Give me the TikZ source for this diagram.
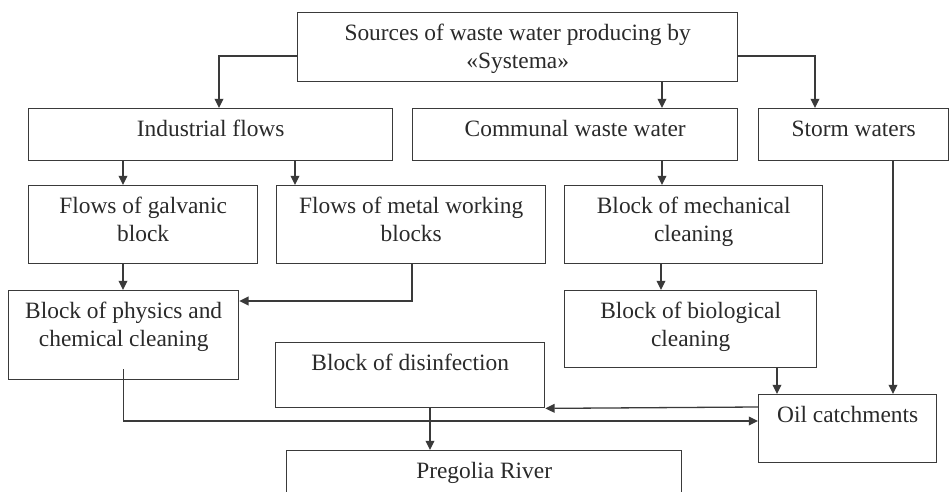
\documentclass[tikz,border=0pt]{standalone}
\usepackage{fontspec}
\setmainfont{Liberation Serif}
\usetikzlibrary{arrows.meta,calc}
\definecolor{ink}{HTML}{2A2A2A}
\definecolor{edge}{HTML}{3A3A3A}
\tikzset{
  box/.style={draw=edge, line width=0.7pt, rectangle, inner sep=0pt, anchor=north west},
  txt/.style={text=ink, inner sep=0pt, anchor=north, align=center, font=\fontsize{11.7}{14}\selectfont},
  arr/.style={draw=edge, line width=0.65pt, -{Triangle[length=4.6pt,width=4.4pt]}},
  ln/.style={draw=edge, line width=0.65pt}
}
\begin{document}
\begin{tikzpicture}[x=0.5pt,y=-0.5pt]
\useasboundingbox (0,0) rectangle (950,492);
\clip (0,0) rectangle (950,492);
\fill[white] (0,0) rectangle (950,492);
% boxes
\node[box, minimum width=220pt, minimum height=34.5pt] (src) at (297,12) {};
\node[box, minimum width=182pt, minimum height=26pt] (ind) at (28,108) {};
\node[box, minimum width=162.5pt, minimum height=26pt] (com) at (412,108) {};
\node[box, minimum width=95pt, minimum height=26pt] (sto) at (758,108) {};
\node[box, minimum width=114.5pt, minimum height=39pt] (gal) at (28,185) {};
\node[box, minimum width=134.5pt, minimum height=39pt] (met) at (276,185) {};
\node[box, minimum width=129pt, minimum height=39pt] (mec) at (564,185) {};
\node[box, minimum width=115pt, minimum height=44.5pt] (phy) at (8,290) {};
\node[box, minimum width=126pt, minimum height=38.5pt] (bio) at (564,290) {};
\node[box, minimum width=134.5pt, minimum height=32.5pt] (dis) at (275,342) {};
\node[box, minimum width=89pt, minimum height=34pt] (oil) at (758,394) {};
\node[box, minimum width=197.5pt, minimum height=30pt] (pre) at (286,450) {};
% texts
\node[txt] (tsrc) at ([yshift=-4.2pt]src.north) {\strut Sources of waste water producing by\\«Systema»};
\node[txt] (tind) at ([yshift=-4.2pt]ind.north) {\strut Industrial flows};
\node[txt] (tcom) at ([yshift=-4.2pt]com.north) {\strut Communal waste water};
\node[txt] (tsto) at ([yshift=-4.2pt]sto.north) {\strut Storm waters};
\node[txt] (tgal) at ([yshift=-4.2pt]gal.north) {\strut Flows of galvanic\\block};
\node[txt] (tmet) at ([yshift=-4.2pt]met.north) {\strut Flows of metal working\\blocks};
\node[txt] (tmec) at ([yshift=-4.2pt]mec.north) {\strut Block of mechanical\\cleaning};
\node[txt] (tphy) at ([yshift=-4.2pt]phy.north) {\strut Block of physics and\\chemical cleaning};
\node[txt] (tbio) at ([yshift=-4.2pt]bio.north) {\strut Block of biological\\cleaning};
\node[txt] (tdis) at ([yshift=-4.2pt]dis.north) {\strut Block of disinfection};
\node[txt] (toil) at ([yshift=-4.2pt]oil.north) {\strut Oil catchments};
\node[txt] (tpre) at ([yshift=-4.2pt]pre.north) {\strut Pregolia River};
% connectors
\draw[arr] (src.west |- 0,56) -| (ind.north -| 219,0);
\draw[arr] (src.south -| 662,0) -- (com.north -| 662,0);
\draw[arr] (src.east |- 0,56) -| (sto.north -| 815,0);
\draw[arr] (ind.south -| 123,0) -- (gal.north -| 123,0);
\draw[arr] (ind.south -| 295,0) -- (met.north -| 295,0);
\draw[arr] (com.south -| 662,0) -- (mec.north -| 662,0);
\draw[arr] (gal.south -| 123,0) -- (phy.north -| 123,0);
\draw[arr] (met.south -| 412,0) |- (phy.east |- 0,301);
\draw[arr] (mec.south -| 661,0) -- (bio.north -| 661,0);
\draw[arr] (bio.south -| 777,0) -- (oil.north -| 777,0);
\draw[arr] (sto.south -| 893,0) -- (oil.north -| 893,0);
\draw[arr] (oil.west |- 0,407) -- (dis.south east);
\draw[arr] ([yshift=5.5pt]phy.south) |- (oil.west |- 0,421);
\draw[arr] (dis.south -| 430,0) -- (pre.north -| 430,0);
\end{tikzpicture}
\end{document}
